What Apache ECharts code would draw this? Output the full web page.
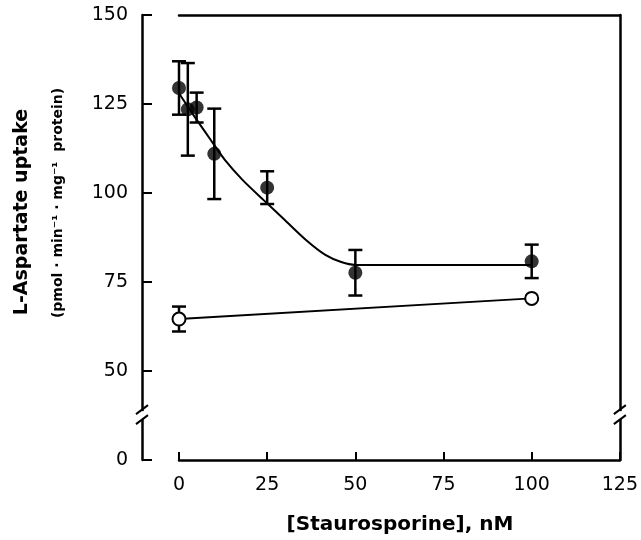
<!DOCTYPE html>
<html>
<head>
<meta charset="utf-8">
<script src="https://cdn.jsdelivr.net/npm/echarts@6/dist/echarts.min.js"></script>
<style>
  html, body { margin: 0; padding: 0; background: #fff; }
  #chart { width: 641px; height: 540px; }
</style>
</head>
<body>
<div id="chart"></div>
<script>
// staurosporine (nM) vs uptake, filled circles = mean +/- error
var concentrations = [0, 2.5, 5, 10, 25, 50, 100];
var uptakeMean = [129.5, 123.5, 124.0, 111.0, 101.5, 77.6, 80.8];
var uptakeErr = [7.5, 13.0, 4.2, 12.7, 4.6, 6.4, 4.7];

// open circles (control)
var controlConc = [0, 100];
var controlMean = [64.6, 70.4];
var controlErr = [3.5, 0];

// fitted curve
var fitConc = [0, 4.5, 9, 13, 18, 24, 30, 36, 41.5, 46, 50, 100];
var fitUptake = [128.0, 121.3, 114.9, 109.3, 103.7, 98.0, 92.4, 86.8, 82.6, 80.6, 79.8, 79.8];

var xTickValues = [0, 25, 50, 75, 100, 125];
var yTickValues = [25, 50, 75, 100, 125, 150];
var yTickLabels = ['0', '50', '75', '100', '125', '150'];
var breakValue = 37.6;

var font = '"DejaVu Sans", "Liberation Sans", sans-serif';

var chart = echarts.init(document.getElementById('chart'));

var filled = concentrations.map(function (c, i) { return [c, uptakeMean[i]]; });
var errRows = concentrations.map(function (c, i) {
  return [c, uptakeMean[i] - uptakeErr[i], uptakeMean[i] + uptakeErr[i]];
});
controlConc.forEach(function (c, i) {
  if (controlErr[i] > 0) errRows.push([c, controlMean[i] - controlErr[i], controlMean[i] + controlErr[i]]);
});
var open = controlConc.map(function (c, i) { return [c, controlMean[i]]; });
var fit = fitConc.map(function (c, i) { return [c, fitUptake[i]]; });

function errorBar(params, api) {
  var x = api.value(0);
  var lo = api.coord([x, api.value(1)]);
  var hi = api.coord([x, api.value(2)]);
  var w = 7;
  var st = { stroke: '#000', lineWidth: 2.5 };
  return {
    type: 'group',
    children: [
      { type: 'line', shape: { x1: hi[0], y1: hi[1], x2: lo[0], y2: lo[1] }, style: st },
      { type: 'line', shape: { x1: hi[0] - w, y1: hi[1], x2: hi[0] + w, y2: hi[1] }, style: st },
      { type: 'line', shape: { x1: lo[0] - w, y1: lo[1], x2: lo[0] + w, y2: lo[1] }, style: st }
    ]
  };
}

var axisLine = { show: true, onZero: false, lineStyle: { color: '#000', width: 2.5 } };

var option = {
  animation: false,
  backgroundColor: '#fff',
  grid: { left: 179, right: 21, top: 15, bottom: 80 },
  xAxis: [{
    type: 'value', min: 0, max: 125, interval: 25,
    axisLine: axisLine,
    axisTick: { show: true, inside: true, length: 8, lineStyle: { color: '#000', width: 2 } },
    axisLabel: { color: '#000', fontFamily: font, fontSize: 19, margin: 16 },
    splitLine: { show: false }
  }, {
    type: 'value', min: 0, max: 125, position: 'top',
    axisLine: axisLine, axisTick: { show: false }, axisLabel: { show: false }, splitLine: { show: false }
  }],
  yAxis: [{
    type: 'value', min: 25, max: 150, interval: 25, offset: 37,
    axisLine: axisLine,
    axisTick: { show: true, inside: true, length: 10, lineStyle: { color: '#000', width: 2 } },
    axisLabel: {
      color: '#000', fontFamily: font, fontSize: 19, margin: 14,
      formatter: function (v) {
        var k = yTickValues.indexOf(v);
        return k >= 0 ? yTickLabels[k] : '';
      }
    },
    splitLine: { show: false }
  }, {
    type: 'value', min: 25, max: 150, position: 'right',
    axisLine: axisLine, axisTick: { show: false }, axisLabel: { show: false }, splitLine: { show: false }
  }],
  series: [{
    type: 'custom',
    renderItem: errorBar,
    data: errRows,
    encode: { x: 0, y: [1, 2] },
    clip: false,
    z: 2
  }, {
    type: 'line',
    data: fit,
    smooth: 0.25,
    showSymbol: false,
    symbol: 'none',
    lineStyle: { color: '#000', width: 2 },
    clip: false,
    silent: true,
    z: 3
  }, {
    type: 'scatter',
    data: filled,
    symbol: 'circle',
    symbolSize: 14,
    itemStyle: { color: '#000' },
    clip: false,
    z: 4
  }, {
    type: 'line',
    data: open,
    symbol: 'circle',
    symbolSize: 13,
    itemStyle: { color: '#fff', borderColor: '#000', borderWidth: 2 },
    lineStyle: { color: '#000', width: 2 },
    clip: false,
    z: 4
  }]
};

chart.setOption(option);

// axis break marks and titles
var yb = chart.convertToPixel({ yAxisIndex: 0 }, breakValue);
var xl = chart.convertToPixel({ xAxisIndex: 0 }, 0) - 37;
var xr = chart.convertToPixel({ xAxisIndex: 0 }, 125);

function breakMark(x) {
  var st = { stroke: '#000', lineWidth: 2 };
  return [
    { type: 'rect', shape: { x: x - 3, y: yb - 4, width: 6, height: 8 }, style: { fill: '#fff' }, z: 50 },
    { type: 'line', shape: { x1: x - 6, y1: yb - 1, x2: x + 6, y2: yb - 10 }, style: st, z: 51 },
    { type: 'line', shape: { x1: x - 6, y1: yb + 9, x2: x + 6, y2: yb }, style: st, z: 51 }
  ];
}

chart.setOption({
  graphic: breakMark(xl).concat(breakMark(xr)).concat([{
    type: 'text', x: 22, y: 212, rotation: Math.PI / 2,
    style: { text: 'L-Aspartate uptake', font: 'bold 19px ' + font, fill: '#000', textAlign: 'center', textVerticalAlign: 'middle' }
  }, {
    type: 'text', x: 58, y: 203, rotation: Math.PI / 2,
    style: { text: '(pmol · min⁻¹ · mg⁻¹  protein)', font: 'bold 14px ' + font, fill: '#000', textAlign: 'center', textVerticalAlign: 'middle' }
  }, {
    type: 'text', x: 400, y: 525,
    style: { text: '[Staurosporine], nM', font: 'bold 20px ' + font, fill: '#000', textAlign: 'center', textVerticalAlign: 'middle' }
  }])
});
</script>
</body>
</html>
